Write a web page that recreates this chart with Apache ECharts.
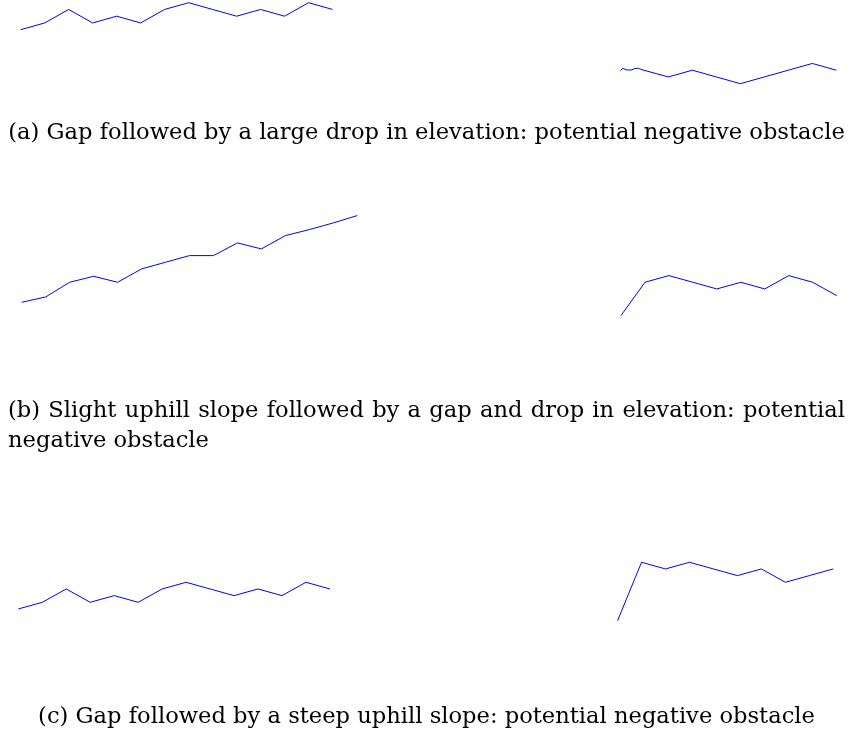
<!DOCTYPE html>
<html>
<head>
<meta charset="utf-8">
<script src="https://cdn.jsdelivr.net/npm/echarts@6/dist/echarts.min.js"></script>
<style>
  html, body { margin: 0; padding: 0; background: #fff; }
  #chart { width: 850px; height: 734px; }
</style>
</head>
<body>
<div id="chart"></div>
<script>
// Range profiles: elevation (relative units) against sample index.
// Left segment starts at sample 0, right segment after the gap at sample 25.

// (a) gap followed by a large drop
const profileA_leftX = [0, 1, 2, 3, 4, 5, 6, 7, 8, 9, 10, 11, 12, 13];
const profileA_leftY = [0, 1, 3, 1, 2, 1, 3, 4, 3, 2, 3, 2, 4, 3];
const profileA_rightX = [25, 25.1, 25.25, 25.45, 25.6, 25.75, 25.9, 27, 28, 29, 30, 31, 32, 33, 34];
const profileA_rightY = [-6.05, -5.72, -5.95, -5.98, -5.75, -5.72, -5.93, -7, -6, -7, -8, -7, -6, -5, -6];

// (b) slight uphill slope, gap, then a drop
const profileB_leftX = [0, 1, 2, 3, 4, 5, 6, 7, 8, 9, 10, 11, 12, 13, 14];
const profileB_leftY = [0, 0.8, 3, 3.9, 3, 5, 6, 7, 7, 8.9, 8, 10, 10.9, 11.9, 13];
const profileB_rightX = [25, 26, 27, 28, 29, 30, 31, 32, 33, 34];
const profileB_rightY = [-2, 3, 4, 3, 2, 3, 2, 4, 3, 1];

// (c) gap followed by a steep uphill slope
const profileC_leftX = [0, 1, 2, 3, 4, 5, 6, 7, 8, 9, 10, 11, 12, 13];
const profileC_leftY = [0, 1, 3, 1, 2, 1, 3, 4, 3, 2, 3, 2, 4, 3];
const profileC_rightX = [25, 26, 27, 28, 29, 30, 31, 32, 33, 34];
const profileC_rightY = [-1.75, 7, 6, 7, 6, 5, 6, 4, 5, 6];

const captionA = '(a) Gap followed by a large drop in elevation: potential negative obstacle';
const captionB1 = '(b) Slight uphill slope followed by a gap and drop in elevation: potential';
const captionB2 = 'negative obstacle';
const captionC = '(c) Gap followed by a steep uphill slope: potential negative obstacle';

const pairs = (xs, ys) => xs.map((x, i) => [x, ys[i]]);

// panel layout: grid box in pixels plus the elevation range it shows
const panels = [
  { left: 20.7, width: 815.6, top: 0,     height: 90.45, yMin: -9, yMax: 4.4,
    series: [pairs(profileA_leftX, profileA_leftY), pairs(profileA_rightX, profileA_rightY)] },
  { left: 21.7, width: 815.0, top: 208.9, height: 113.4, yMin: -3, yMax: 14,
    series: [pairs(profileB_leftX, profileB_leftY), pairs(profileB_rightX, profileB_rightY)] },
  { left: 18.3, width: 815.0, top: 555.6, height: 73.4,  yMin: -3, yMax: 8,
    series: [pairs(profileC_leftX, profileC_leftY), pairs(profileC_rightX, profileC_rightY)] }
];

// caption font size fitted to the caption line width
const fontFamily = '"DejaVu Serif", "Liberation Serif", serif';
const ctx = document.createElement('canvas').getContext('2d');
ctx.font = '20px ' + fontFamily;
const fontSize = Math.round(20 * 837 / ctx.measureText(captionA).width * 10) / 10;
ctx.font = fontSize + 'px ' + fontFamily;

const grid = [], xAxis = [], yAxis = [], series = [];
panels.forEach((p, i) => {
  grid.push({ left: p.left, top: p.top, width: p.width, height: p.height, containLabel: false });
  xAxis.push({ type: 'value', gridIndex: i, min: 0, max: 34, show: false });
  yAxis.push({ type: 'value', gridIndex: i, min: p.yMin, max: p.yMax, show: false });
  p.series.forEach(d => {
    series.push({
      type: 'line', xAxisIndex: i, yAxisIndex: i, data: d,
      showSymbol: false, symbol: 'none', smooth: false,
      lineStyle: { color: '#0000ff', width: 1 }
    });
  });
});

const textEl = (text, x, y, align) => ({
  type: 'text', x: x, y: y, silent: true,
  style: {
    text: text, fill: '#000', fontSize: fontSize, fontFamily: fontFamily,
    textAlign: align, textVerticalAlign: 'middle', align: align, verticalAlign: 'middle'
  }
});

// a justified caption line: words spread evenly between x0 and x1
function justifiedLine(text, x0, x1, y) {
  const words = text.split(' ');
  const widths = words.map(w => ctx.measureText(w).width);
  const total = widths.reduce((a, b) => a + b, 0);
  const gap = (x1 - x0 - total) / (words.length - 1);
  const out = [];
  let x = x0;
  words.forEach((w, i) => {
    out.push(textEl(w, x, y, 'left'));
    x += widths[i] + gap;
  });
  return out;
}

const chart = echarts.init(document.getElementById('chart'), null, { renderer: 'canvas' });
chart.setOption({
  animation: false,
  backgroundColor: '#fff',
  grid: grid,
  xAxis: xAxis,
  yAxis: yAxis,
  series: series,
  graphic: [
    textEl(captionA, 426.5, 133, 'center'),
    ...justifiedLine(captionB1, 8, 845, 411),
    textEl(captionB2, 8, 441, 'left'),
    textEl(captionC, 426.5, 717, 'center')
  ]
});
</script>
</body>
</html>
